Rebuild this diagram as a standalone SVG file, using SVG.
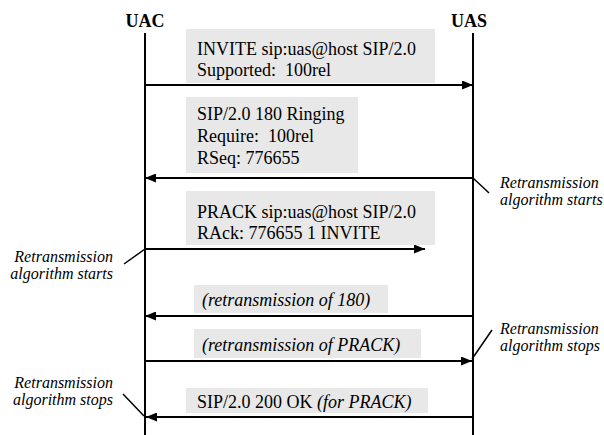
<svg xmlns="http://www.w3.org/2000/svg" width="604" height="435" viewBox="0 0 604 435">
  <style>
    .hdr { font-family: "Liberation Serif", "Times New Roman", serif; font-size: 18px; font-weight: bold; fill: #000; }
    .msg { font-family: "Liberation Serif", "Times New Roman", serif; font-size: 18px; fill: #000; white-space: pre; }
    .it { font-style: italic; }
    .note { font-family: "Liberation Serif", "Times New Roman", serif; font-size: 16px; font-style: italic; fill: #000; }
    .box { fill: #e8e8e8; stroke: none; }
    .life { stroke: #000; stroke-width: 2; fill: none; }
    .arrow { stroke: #000; stroke-width: 2; fill: none; marker-end: url(#head); }
    .tick { stroke: #000; stroke-width: 1.5; fill: none; }
  </style>
  <defs>
    <marker id="head" markerUnits="userSpaceOnUse" markerWidth="11" markerHeight="9" refX="11" refY="4.5" orient="auto">
      <path d="M0,0 L11,4.5 L0,9 Z" fill="#000"/>
    </marker>
  </defs>

  <rect width="604" height="435" fill="#fff"/>

  <!-- endpoints with lifelines -->
  <g id="uac">
    <text class="hdr" x="145" y="27" text-anchor="middle">UAC</text>
    <line class="life" x1="145" y1="33" x2="145" y2="435"/>
  </g>
  <g id="uas">
    <text class="hdr" x="469" y="27" text-anchor="middle">UAS</text>
    <line class="life" x1="473" y1="33" x2="473" y2="435"/>
  </g>

  <!-- message labels -->
  <g id="msg-invite">
    <rect class="box" x="186" y="29" width="249" height="54"/>
    <text class="msg" x="197" y="55">INVITE sip:uas@host SIP/2.0</text>
    <text class="msg" x="197" y="76" xml:space="preserve">Supported:  100rel</text>
  </g>
  <g id="msg-180">
    <rect class="box" x="186" y="97" width="172" height="76"/>
    <text class="msg" x="197" y="120">SIP/2.0 180 Ringing</text>
    <text class="msg" x="197" y="142" xml:space="preserve">Require:  100rel</text>
    <text class="msg" x="197" y="164">RSeq: 776655</text>
  </g>
  <g id="msg-prack">
    <rect class="box" x="186" y="191" width="249" height="54"/>
    <text class="msg" x="197" y="218">PRACK sip:uas@host SIP/2.0</text>
    <text class="msg" x="197" y="239">RAck: 776655 1 INVITE</text>
  </g>
  <g id="msg-180-retx">
    <rect class="box" x="194" y="285" width="194" height="28"/>
    <text class="msg it" x="202" y="306">(retransmission of 180)</text>
  </g>
  <g id="msg-prack-retx">
    <rect class="box" x="194" y="329" width="227" height="29"/>
    <text class="msg it" x="202" y="351">(retransmission of PRACK)</text>
  </g>
  <g id="msg-200">
    <rect class="box" x="186" y="388" width="242" height="25"/>
    <text class="msg" x="197" y="408">SIP/2.0 200 OK <tspan class="it">(for PRACK)</tspan></text>
  </g>

  <!-- side notes -->
  <g id="note-uas-start">
    <text class="note" x="500" y="188">Retransmission</text>
    <text class="note" x="500" y="205">algorithm starts</text>
  </g>
  <g id="note-uac-start">
    <text class="note" x="113" y="262" text-anchor="end">Retransmission</text>
    <text class="note" x="113" y="279" text-anchor="end">algorithm starts</text>
  </g>
  <g id="note-uas-stop">
    <text class="note" x="500" y="334">Retransmission</text>
    <text class="note" x="500" y="351">algorithm stops</text>
  </g>
  <g id="note-uac-stop">
    <text class="note" x="113" y="388" text-anchor="end">Retransmission</text>
    <text class="note" x="113" y="405" text-anchor="end">algorithm stops</text>
  </g>

  <!-- connectors -->
  <g id="connectors">
    <line class="arrow" x1="145" y1="85" x2="473" y2="85"/>
    <line class="arrow" x1="473" y1="178" x2="145" y2="178"/>
    <line class="arrow" x1="145" y1="249" x2="425" y2="249"/>
    <line class="arrow" x1="473" y1="316" x2="145" y2="316"/>
    <line class="arrow" x1="145" y1="361" x2="472" y2="361"/>
    <line class="arrow" x1="473" y1="417" x2="146" y2="417"/>
    <line class="tick" x1="473" y1="178" x2="489" y2="193"/>
    <line class="tick" x1="145" y1="249" x2="124" y2="264"/>
    <line class="tick" x1="492" y1="330" x2="472" y2="359"/>
    <line class="tick" x1="123" y1="394" x2="144" y2="416"/>
  </g>
</svg>
